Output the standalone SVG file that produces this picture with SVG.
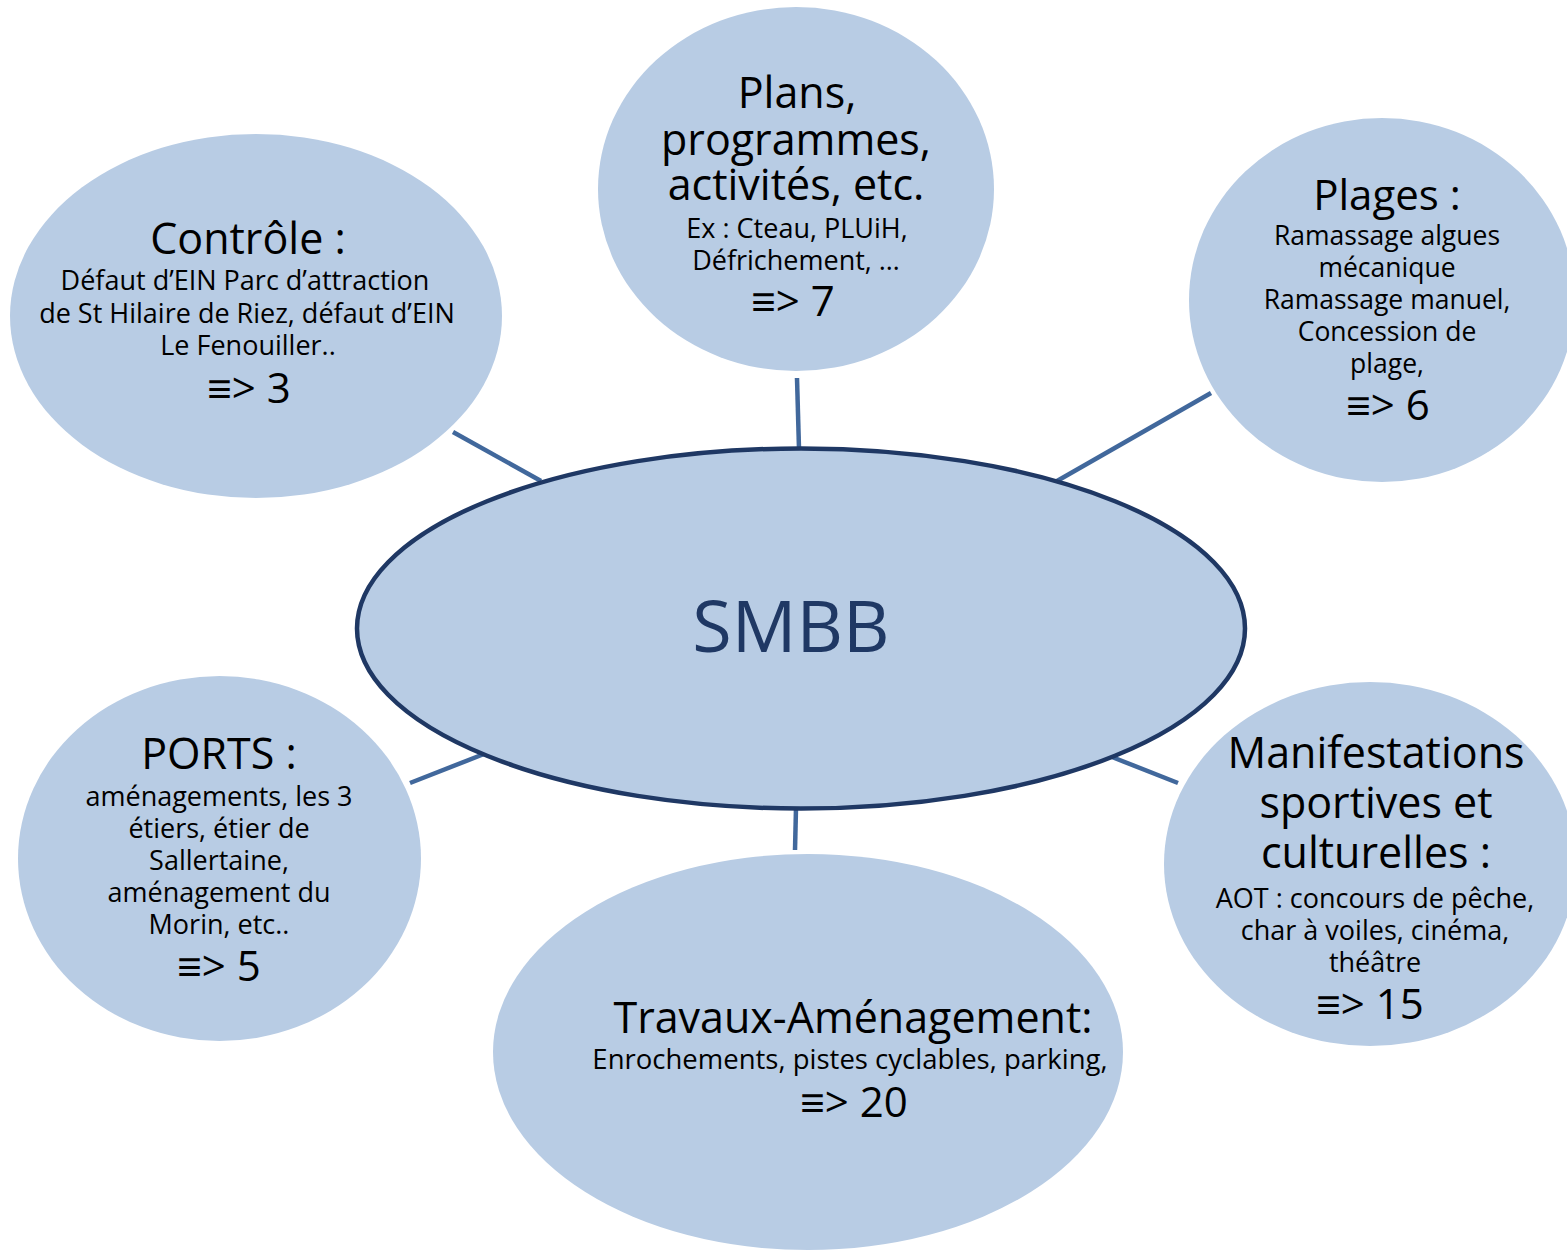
<svg xmlns="http://www.w3.org/2000/svg" width="1567" height="1251" viewBox="0 0 1567 1251">
<style>
.bub{fill:#b8cce4;stroke:none}
.core{fill:#b8cce4;stroke:#1f3864;stroke-width:4.5}
.con line{stroke:#41689c;stroke-width:4.5}
text{font-family:"Open Sans","Liberation Sans",sans-serif;fill:#000;text-anchor:middle}
.h{font-size:43px}
.s{font-size:27px}
.n{font-size:42px}
.ph{font-size:42px}
.ps{font-size:26.5px}
.th{font-size:43px}
.ts{font-size:27.5px}
.smbb{font-size:72px;fill:#1f3864}
</style>
<rect width="1567" height="1251" fill="#fff"/>
<g id="connectors" class="con">
<line x1="453" y1="432" x2="541" y2="481"/>
<line x1="797" y1="378" x2="799" y2="449"/>
<line x1="1211" y1="393" x2="1057" y2="481"/>
<line x1="410" y1="783" x2="484" y2="754"/>
<line x1="796" y1="808" x2="795" y2="850"/>
<line x1="1112" y1="757" x2="1178" y2="783"/>
</g>
<g id="controle">
<ellipse class="bub" cx="256" cy="316" rx="246" ry="182"/>
<text class="h" x="248" y="254">Contrôle :</text>
<text class="s" x="245" y="290">Défaut d’EIN Parc d’attraction</text>
<text class="s" x="247" y="323">de St Hilaire de Riez, défaut d’EIN</text>
<text class="s" x="248" y="355">Le Fenouiller..</text>
<text class="n" x="249" y="403">≡&gt; 3</text>
</g>
<g id="plans">
<ellipse class="bub" cx="796" cy="189" rx="198" ry="182"/>
<text class="h" x="797" y="108">Plans,</text>
<text class="h" x="796" y="155">programmes,</text>
<text class="h" x="796" y="200">activités, etc.</text>
<text class="s" x="797" y="238">Ex : Cteau,  PLUiH,</text>
<text class="s" x="796" y="270">Défrichement, …</text>
<text class="n" x="793" y="316">≡&gt; 7</text>
</g>
<g id="plages">
<ellipse class="bub" cx="1382" cy="300" rx="193" ry="182"/>
<text class="ph" x="1387" y="210">Plages :</text>
<text class="ps" x="1387" y="245">Ramassage algues</text>
<text class="ps" x="1387" y="277">mécanique</text>
<text class="ps" x="1387" y="309">Ramassage manuel,</text>
<text class="ps" x="1387" y="341">Concession de</text>
<text class="ps" x="1387" y="373">plage,</text>
<text class="n" x="1388" y="420">≡&gt; 6</text>
</g>
<g id="smbb">
<ellipse class="core" cx="801" cy="628.5" rx="444" ry="180"/>
<text class="smbb" x="791" y="652">SMBB</text>
</g>
<g id="ports">
<ellipse class="bub" cx="219.5" cy="858.5" rx="201.5" ry="182.5"/>
<text class="h" x="219" y="769">PORTS :</text>
<text class="s" x="219" y="806">aménagements, les 3</text>
<text class="s" x="219" y="838">étiers, étier de</text>
<text class="s" x="219" y="870">Sallertaine,</text>
<text class="s" x="219" y="902">aménagement du</text>
<text class="s" x="219" y="934">Morin, etc..</text>
<text class="n" x="219" y="981">≡&gt; 5</text>
</g>
<g id="manifestations">
<ellipse class="bub" cx="1370" cy="864" rx="206" ry="182"/>
<text class="h" x="1376" y="768">Manifestations</text>
<text class="h" x="1376" y="818">sportives et</text>
<text class="h" x="1376" y="868">culturelles :</text>
<text class="s" x="1375" y="908">AOT : concours de pêche,</text>
<text class="s" x="1375" y="940">char à voiles, cinéma,</text>
<text class="s" x="1375" y="972">théâtre</text>
<text class="n" x="1370" y="1019">≡&gt; 15</text>
</g>
<g id="travaux">
<ellipse class="bub" cx="808" cy="1052" rx="315" ry="198"/>
<text class="th" x="853" y="1033">Travaux-Aménagement:</text>
<text class="ts" x="850" y="1069">Enrochements, pistes cyclables, parking,</text>
<text class="n" x="854" y="1117">≡&gt; 20</text>
</g>
</svg>
